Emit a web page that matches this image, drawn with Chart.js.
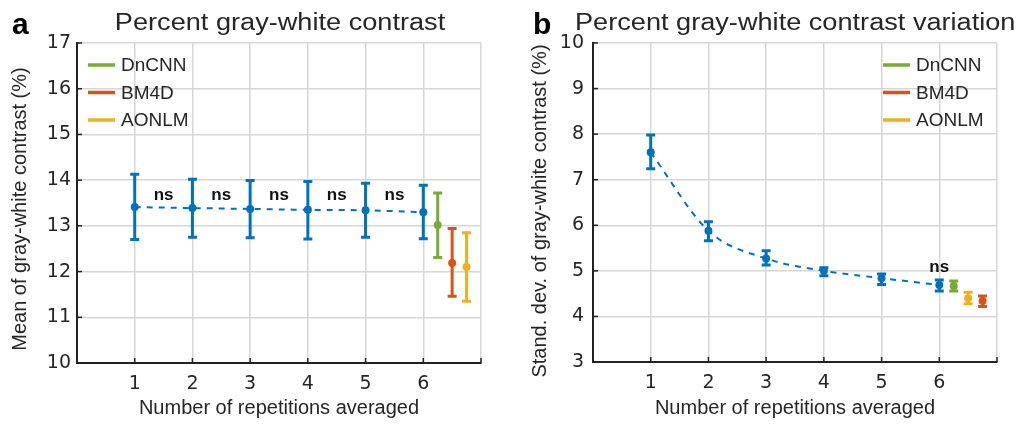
<!DOCTYPE html>
<html>
<head>
<meta charset="utf-8">
<script src="https://cdn.jsdelivr.net/npm/chart.js@4.4.1/dist/chart.umd.min.js"></script>
<style>
  body { margin: 0; background: #fff; width: 1026px; height: 424px; overflow: hidden; position: relative; }
  .panel { position: absolute; top: 0; width: 513px; height: 424px; }
</style>
</head>
<body>
<div class="panel" style="left:0"><canvas id="chartA"></canvas></div>
<div class="panel" style="left:513px"><canvas id="chartB"></canvas></div>
<script>
// ------------------------- DATA -------------------------
const repetitions = [1, 2, 3, 4, 5, 6];
const methods = ['DnCNN', 'BM4D', 'AONLM'];
const methodColors = ['#77AC30', '#D95319', '#EDB120'];
const BLUE = '#0072BD';

// panel a: mean of gray-white contrast
const meanA = [13.41, 13.39, 13.37, 13.35, 13.34, 13.30];
const lowA = [12.70, 12.75, 12.74, 12.71, 12.75, 12.72];
const highA = [14.13, 14.02, 13.99, 13.97, 13.93, 13.89];
const methodXA = [6.25, 6.5, 6.75];
const methodMeanA = [13.02, 12.19, 12.10];
const methodLowA = [12.31, 11.46, 11.35];
const methodHighA = [13.72, 12.94, 12.85];
const nsXA = [1.5, 2.5, 3.5, 4.5, 5.5];
const nsYA = [13.67, 13.67, 13.67, 13.67, 13.67];

// panel b: standard deviation of gray-white contrast
const meanB = [7.60, 5.88, 5.27, 5.00, 4.84, 4.69];
const lowB = [7.24, 5.66, 5.13, 4.89, 4.70, 4.56];
const highB = [7.98, 6.08, 5.44, 5.07, 4.93, 4.80];
const methodXB = [6.25, 6.75, 6.5];   // DnCNN, BM4D, AONLM
const methodMeanB = [4.67, 4.34, 4.40];
const methodLowB = [4.56, 4.22, 4.28];
const methodHighB = [4.78, 4.45, 4.53];
const nsXB = [6];
const nsYB = [5.07];

const FONT = '"Liberation Sans", Arial, Helvetica, sans-serif';
const TICK_FONT = '"DejaVu Sans", sans-serif';
const TEXT = '#262626';

// ------------------------- PLUGINS -------------------------
// error bars + inward axis ticks, drawn under the markers
const errorBarPlugin = {
  id: 'errorBars',
  beforeDatasetsDraw(chart) {
    const { ctx, scales: { x, y }, chartArea } = chart;
    ctx.save();
    // MATLAB style inner ticks
    ctx.strokeStyle = '#222';
    ctx.lineWidth = 1.5;
    for (let v = 1; v <= 7; v++) {
      const px = x.getPixelForValue(v);
      ctx.beginPath(); ctx.moveTo(px, chartArea.bottom); ctx.lineTo(px, chartArea.bottom - 5); ctx.stroke();
    }
    for (let v = y.min; v <= y.max; v++) {
      const py = y.getPixelForValue(v);
      ctx.beginPath(); ctx.moveTo(chartArea.left, py); ctx.lineTo(chartArea.left + 5, py); ctx.stroke();
    }
    chart.data.datasets.forEach(ds => {
      if (!ds.errLow) return;
      ctx.strokeStyle = ds.pointBackgroundColor;
      ctx.lineWidth = 3;
      ds.data.forEach((p, i) => {
        const px = x.getPixelForValue(p.x);
        const top = y.getPixelForValue(ds.errHigh[i]);
        const bot = y.getPixelForValue(ds.errLow[i]);
        ctx.beginPath();
        ctx.moveTo(px, top); ctx.lineTo(px, bot);
        ctx.moveTo(px - 4.5, top); ctx.lineTo(px + 4.5, top);
        ctx.moveTo(px - 4.5, bot); ctx.lineTo(px + 4.5, bot);
        ctx.stroke();
      });
    });
    ctx.restore();
  }
};

// panel letter, title, y title, legend, "ns" labels
const decorPlugin = {
  id: 'decor',
  afterDraw(chart, args, opts) {
    const { ctx, scales: { x, y } } = chart;
    ctx.save();
    ctx.fillStyle = '#000';
    ctx.textBaseline = 'alphabetic';
    ctx.textAlign = 'left';
    ctx.font = 'bold 30px ' + FONT;
    ctx.fillText(opts.letter, opts.letterX, 34);

    // title: the figure font is wider than Arial, so stretch it a little
    ctx.save();
    ctx.fillStyle = TEXT;
    ctx.font = '23px ' + FONT;
    ctx.textAlign = opts.titleAlign;
    ctx.translate(opts.titleX, 30);
    ctx.scale(1.18, 1);
    ctx.fillText(opts.title, 0, 0);
    ctx.restore();

    // y axis title (sits a bit below the axis centre in the figure)
    ctx.save();
    ctx.fillStyle = TEXT;
    ctx.font = '20px ' + FONT;
    ctx.textAlign = 'center';
    ctx.textBaseline = 'middle';
    ctx.translate(opts.yTitleX, opts.yTitleY);
    ctx.rotate(-Math.PI / 2);
    ctx.fillText(opts.yTitle, 0, 0);
    ctx.restore();

    // legend
    ctx.textAlign = 'left';
    ctx.textBaseline = 'middle';
    ctx.font = '19px ' + FONT;
    methods.forEach((m, i) => {
      const ly = 65 + i * 27.5;
      ctx.strokeStyle = methodColors[i];
      ctx.lineWidth = 3.5;
      ctx.beginPath(); ctx.moveTo(opts.legendX, ly); ctx.lineTo(opts.legendX + 27, ly); ctx.stroke();
      ctx.fillStyle = TEXT;
      ctx.fillText(m, opts.legendX + 33, ly + 1);
    });

    // ns labels
    ctx.fillStyle = '#111';
    ctx.font = 'bold 17px ' + FONT;
    ctx.textAlign = 'center';
    opts.nsX.forEach((v, i) => {
      ctx.fillText('ns', x.getPixelForValue(v), y.getPixelForValue(opts.nsY[i]));
    });
    ctx.restore();
  }
};

// ------------------------- CHART BUILDER -------------------------
function buildChart(canvasId, cfg) {
  const blueData = repetitions.map((r, i) => ({ x: r, y: cfg.mean[i] }));
  const datasets = [{
    label: 'Repetitions',
    data: blueData,
    showLine: true,
    borderColor: BLUE,
    borderWidth: 2,
    borderDash: [6, 6],
    tension: cfg.tension,
    cubicInterpolationMode: 'monotone',
    pointRadius: 4,
    pointBackgroundColor: BLUE,
    pointBorderWidth: 0,
    errLow: cfg.low,
    errHigh: cfg.high
  }];
  methods.forEach((m, i) => {
    datasets.push({
      label: m,
      data: [{ x: cfg.methodX[i], y: cfg.methodMean[i] }],
      showLine: false,
      pointRadius: 4,
      pointBackgroundColor: methodColors[i],
      pointBorderWidth: 0,
      errLow: [cfg.methodLow[i]],
      errHigh: [cfg.methodHigh[i]]
    });
  });

  return new Chart(document.getElementById(canvasId), {
    type: 'scatter',
    data: { datasets },
    options: {
      responsive: true,
      maintainAspectRatio: false,
      animation: false,
      layout: { padding: { top: 43, right: cfg.padRight, left: 0, bottom: 0 } },
      plugins: {
        legend: { display: false },
        tooltip: { enabled: false },
        decor: cfg.decor
      },
      scales: {
        x: {
          type: 'linear', min: 0, max: 7,
          afterFit: s => { s.height = 424 - cfg.bottom; },
          ticks: {
            stepSize: 1, padding: 10, color: TEXT,
            font: { family: TICK_FONT, size: 19 },
            callback: v => (v >= 1 && v <= 6 ? String(v) : '')
          },
          grid: { color: '#d6d6d6', lineWidth: 1.5, drawTicks: false },
          border: { color: '#222', width: 2 },
          title: {
            display: true, text: 'Number of repetitions averaged', color: TEXT,
            font: { family: FONT, size: 20 }, padding: { bottom: 4, top: 0 }
          }
        },
        y: {
          min: cfg.yMin, max: cfg.yMax,
          afterFit: s => { s.width = cfg.axisX; },
          ticks: {
            stepSize: 1, padding: cfg.tickPad, color: TEXT,
            font: { family: TICK_FONT, size: 19 }
          },
          grid: { color: '#d6d6d6', lineWidth: 1.5, drawTicks: false },
          border: { color: '#222', width: 2 }
        }
      }
    },
    plugins: [errorBarPlugin, decorPlugin]
  });
}

window.onload = () => {
  buildChart('chartA', {
    mean: meanA, low: lowA, high: highA,
    methodX: methodXA, methodMean: methodMeanA, methodLow: methodLowA, methodHigh: methodHighA,
    yMin: 10, yMax: 17, axisX: 77, padRight: 32, bottom: 363, tickPad: 6, tension: 0,
    decor: { letter: 'a', letterX: 12, title: 'Percent gray-white contrast', titleX: 280, titleAlign: 'center',
             yTitle: 'Mean of gray-white contrast (%)', yTitleX: 20, yTitleY: 209,
             legendX: 88, nsX: nsXA, nsY: nsYA }
  });
  buildChart('chartB', {
    mean: meanB, low: lowB, high: highB,
    methodX: methodXB, methodMean: methodMeanB, methodLow: methodLowB, methodHigh: methodHighB,
    yMin: 3, yMax: 10, axisX: 80, padRight: 29, bottom: 362, tickPad: 9, tension: 0.4,
    decor: { letter: 'b', letterX: 20, title: 'Percent gray-white contrast variation', titleX: 62, titleAlign: 'left',
             yTitle: 'Stand. dev. of gray-white contrast (%)', yTitleX: 27, yTitleY: 211,
             legendX: 370, nsX: nsXB, nsY: nsYB }
  });
};
</script>
</body>
</html>
